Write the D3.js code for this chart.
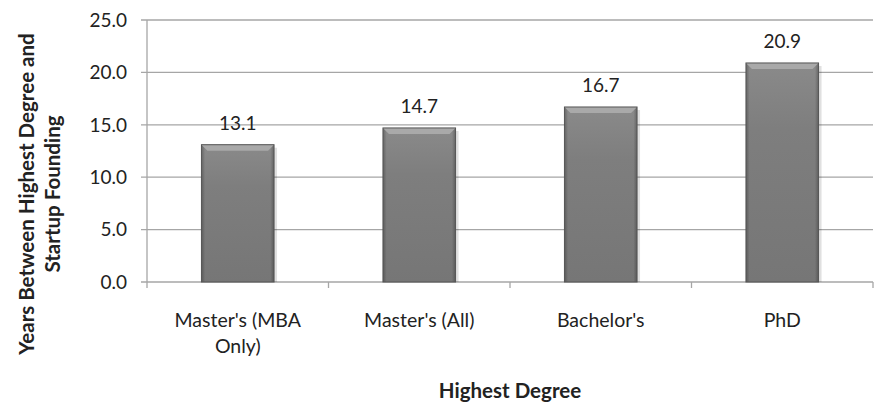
<!DOCTYPE html>
<html><head><meta charset="utf-8">
<script src="https://cdn.jsdelivr.net/npm/d3@7"></script>
<style>body{margin:0;background:#fff;} text{font-family:Lato,"Open Sans",sans-serif;}</style>
</head><body>
<svg id="c" width="887" height="418"></svg>
<script>
const categories = [["Master's (MBA","Only)"],["Master's (All)"],["Bachelor's"],["PhD"]];
const values = [13.1, 14.7, 16.7, 20.9];
const yTicks = [0,5,10,15,20,25];

const svg = d3.select("#c");
const m = {l:147, r:873, t:20, b:282};
const x = d3.scaleBand().domain(d3.range(values.length)).range([m.l, m.r]).paddingInner(0.6).paddingOuter(0.3);
const y = d3.scaleLinear().domain([0,25]).range([m.b, m.t]);

const defs = svg.append("defs");
const g1 = defs.append("linearGradient").attr("id","bv").attr("x1",0).attr("y1",0).attr("x2",0).attr("y2",1);
g1.append("stop").attr("offset","0").attr("stop-color","#8a8a8a");
g1.append("stop").attr("offset","0.3").attr("stop-color","#7e7e7e");
g1.append("stop").attr("offset","1").attr("stop-color","#767676");
const g2 = defs.append("linearGradient").attr("id","bh").attr("x1",0).attr("y1",0).attr("x2",1).attr("y2",0);
g2.append("stop").attr("offset","0").attr("stop-color","#000").attr("stop-opacity",0.25);
g2.append("stop").attr("offset","0.05").attr("stop-color","#000").attr("stop-opacity",0);
g2.append("stop").attr("offset","0.95").attr("stop-color","#000").attr("stop-opacity",0);
g2.append("stop").attr("offset","1").attr("stop-color","#000").attr("stop-opacity",0.25);

svg.append("g").selectAll("line").data(yTicks).join("line")
  .attr("x1", m.l-6).attr("x2", m.r).attr("y1", d=>y(d)).attr("y2", d=>y(d))
  .attr("stroke","#a6a6a6").attr("stroke-width",1.3);

svg.append("line").attr("x1",m.l).attr("x2",m.l).attr("y1",m.t).attr("y2",m.b)
  .attr("stroke","#a6a6a6").attr("stroke-width",1.3);

svg.append("g").selectAll("text").data(yTicks).join("text")
  .attr("x", 127).attr("y", d=>y(d)).attr("dy","0.36em").attr("text-anchor","end")
  .attr("font-size",19).attr("fill","#222").text(d=>d.toFixed(1));

const step = (m.r-m.l)/values.length;
svg.append("g").selectAll("line").data(d3.range(values.length+1)).join("line")
  .attr("x1", d=>m.l+d*step).attr("x2", d=>m.l+d*step).attr("y1", m.b).attr("y2", m.b+6)
  .attr("stroke","#a6a6a6").attr("stroke-width",1.3);

const bw = x.bandwidth();
const bars = svg.append("g").selectAll("g").data(values).join("g");
bars.append("rect").attr("x",(d,i)=>x(i)+3).attr("y",d=>y(d)+3).attr("width",bw).attr("height",d=>y(0)-y(d)-3)
  .attr("fill","#000").attr("opacity",0.12);
bars.append("rect").attr("x",(d,i)=>x(i)).attr("y",d=>y(d)).attr("width",bw).attr("height",d=>y(0)-y(d))
  .attr("fill","url(#bv)");
bars.append("rect").attr("x",(d,i)=>x(i)).attr("y",d=>y(d)).attr("width",bw).attr("height",d=>y(0)-y(d))
  .attr("fill","url(#bh)");
// top bevel
bars.append("path").attr("d",(d,i)=>{const x0=x(i), t=y(d); return `M${x0},${t}L${x0+bw},${t}L${x0+bw-6},${t+6}L${x0+6},${t+6}Z`;})
  .attr("fill","#a9a9a9");
bars.append("rect").attr("x",(d,i)=>x(i)).attr("y",d=>y(d)).attr("width",bw).attr("height",d=>y(0)-y(d))
  .attr("fill","none").attr("stroke","#555").attr("stroke-width",1);

svg.append("g").selectAll("text").data(values).join("text")
  .attr("x",(d,i)=>x(i)+bw/2).attr("y",d=>y(d)-15)
  .attr("text-anchor","middle").attr("font-size",19).attr("fill","#222").text(d=>d.toFixed(1));

const xl = svg.append("g").selectAll("text").data(categories).join("text")
  .attr("x",(d,i)=>x(i)+bw/2).attr("y",327)
  .attr("text-anchor","middle").attr("font-size",19.5).attr("fill","#222");
xl.selectAll("tspan").data(d=>d).join("tspan")
  .attr("x", function(){return this.parentNode.getAttribute("x");})
  .attr("dy",(d,i)=>i? 26:0).text(d=>d);

svg.append("text").attr("x",(m.l+m.r)/2).attr("y",398).attr("text-anchor","middle")
  .attr("font-size",20.5).attr("font-weight","bold").attr("fill","#222").text("Highest Degree");
const yt = svg.append("text").attr("transform","translate(34,194) rotate(-90)")
  .attr("text-anchor","middle").attr("font-size",20.5).attr("font-weight","bold").attr("fill","#222");
yt.append("tspan").attr("x",0).attr("dy",0).text("Years Between Highest Degree and");
yt.append("tspan").attr("x",0).attr("dy",26).text("Startup Founding");
</script>
</body></html>
